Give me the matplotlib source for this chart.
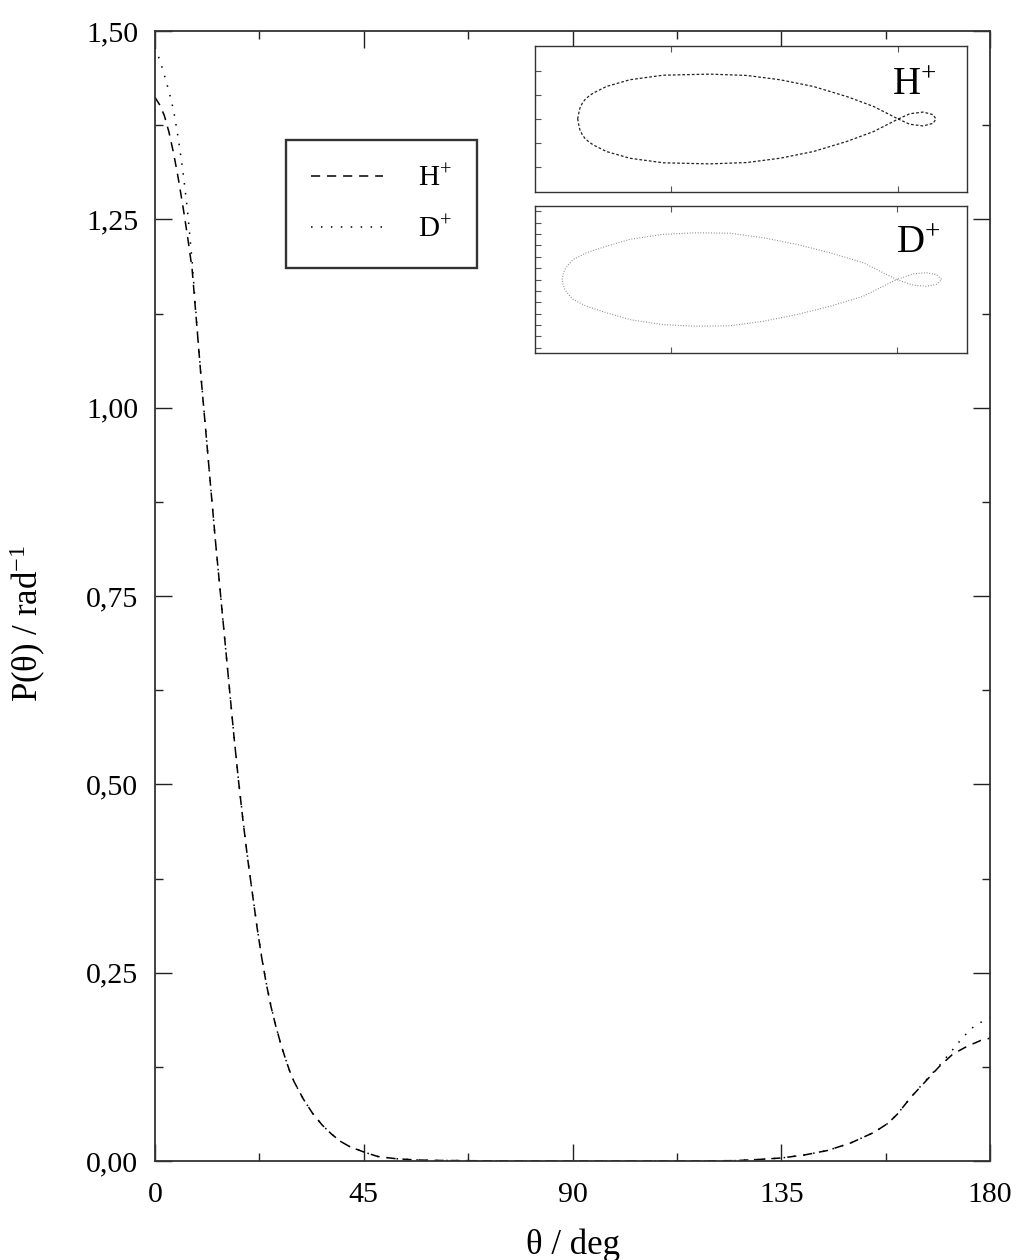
import numpy as np
import matplotlib
matplotlib.use("Agg")
import matplotlib.pyplot as plt
from matplotlib.ticker import MultipleLocator

plt.rcParams['font.family'] = ['Liberation Serif', 'DejaVu Serif']
plt.rcParams['mathtext.fontset'] = 'custom'
plt.rcParams['mathtext.rm'] = 'Liberation Serif'
plt.rcParams['mathtext.it'] = 'Liberation Serif:italic'

# ---------------- data: main panel ----------------
theta_H = [0, 1, 2, 3, 4, 5, 6, 7, 8, 9, 10, 11, 12, 13, 14, 15, 16, 17, 18, 19,
           20, 21, 22, 23, 24, 25, 26, 27, 28, 29, 30, 32, 34, 36, 38, 40, 42, 45,
           48, 52, 56, 60, 70, 80, 90, 100, 110, 120, 125, 130, 135, 140, 145,
           150, 155, 158, 160, 163, 166, 169, 172, 175, 178, 180]
P_H = [1.412, 1.402, 1.388, 1.366, 1.338, 1.305, 1.268, 1.228, 1.184, 1.110,
       1.035, 0.965, 0.895, 0.825, 0.760, 0.695, 0.630, 0.565, 0.505, 0.450,
       0.400, 0.355, 0.310, 0.270, 0.235, 0.205, 0.180, 0.158, 0.138, 0.120,
       0.105, 0.082, 0.063, 0.048, 0.036, 0.026, 0.019, 0.012,
       0.006, 0.003, 0.0015, 0.0008, 0.0003, 0.0, 0.0, 0.0, 0.0, 0.0002, 0.0005,
       0.002, 0.004, 0.008, 0.014, 0.024, 0.038, 0.050, 0.062, 0.085, 0.105,
       0.125, 0.142, 0.152, 0.160, 0.163]

theta_D = [0, 1, 2, 3, 4, 5, 6, 7, 8, 9, 10, 11, 12, 13, 14, 15, 16, 17, 18, 19,
           20, 21, 22, 23, 24, 25, 26, 27, 28, 29, 30, 32, 34, 36, 38, 40, 42, 45,
           48, 52, 56, 60, 70, 80, 90, 100, 110, 120, 125, 130, 135, 140, 145,
           150, 155, 158, 160, 163, 166, 169, 172, 174, 176, 178, 180]
P_D = [1.478, 1.462, 1.442, 1.420, 1.395, 1.358, 1.315, 1.262, 1.195, 1.112,
       1.036, 0.966, 0.895, 0.825, 0.760, 0.695, 0.630, 0.566, 0.506, 0.451,
       0.401, 0.355, 0.311, 0.271, 0.236, 0.206, 0.180, 0.158, 0.138, 0.120,
       0.105, 0.082, 0.063, 0.048, 0.036, 0.026, 0.019, 0.012,
       0.006, 0.003, 0.0015, 0.0008, 0.0003, 0.0, 0.0, 0.0, 0.0, 0.0002, 0.0005,
       0.002, 0.004, 0.008, 0.014, 0.024, 0.038, 0.050, 0.062, 0.085, 0.106,
       0.126, 0.148, 0.163, 0.176, 0.184, 0.190]

labels = ["H$^{+}$", "D$^{+}$"]
xticks = [0, 45, 90, 135, 180]
xtick_labels = ["0", "45", "90", "135", "180"]
yticks = [0.0, 0.25, 0.5, 0.75, 1.0, 1.25, 1.5]
ytick_labels = ["0,00", "0,25", "0,50", "0,75", "1,00", "1,25", "1,50"]

# ---------------- data: inset outlines (upper half) ----------------
lobeH_x = [-1.412, -1.408, -1.402, -1.392, -1.380, -1.362, -1.344, -1.285, -1.182,
           -1.035, -0.830, -0.668, -0.521, -0.374, -0.227, -0.110, -0.037, 0.0,
           0.051, 0.110, 0.154, 0.166]
lobeH_y = [0.0, 0.021, 0.046, 0.065, 0.081, 0.096, 0.108, 0.136, 0.164,
           0.183, 0.1875, 0.182, 0.164, 0.136, 0.094, 0.053, 0.018, 0.0,
           0.022, 0.029, 0.018, 0.0]
lobeD_x = [-1.480, -1.476, -1.468, -1.452, -1.431, -1.372, -1.283, -1.180, -1.033,
           -0.885, -0.738, -0.590, -0.443, -0.295, -0.148, -0.059, 0.0,
           0.074, 0.130, 0.175, 0.199]
lobeD_y = [0.0, 0.022, 0.044, 0.066, 0.088, 0.118, 0.147, 0.177, 0.199,
           0.206, 0.204, 0.184, 0.155, 0.118, 0.074, 0.029, 0.0,
           0.025, 0.030, 0.022, 0.0]

# ---------------- figure ----------------
W, H = 1022, 1260
fig = plt.figure(figsize=(W / 100, H / 100), dpi=100)

def frac(x0, y0, x1, y1):
    return [x0 / W, 1 - y1 / H, (x1 - x0) / W, (y1 - y0) / H]

ax = fig.add_axes(frac(155, 31, 990, 1161))
lw = 1.1
lH, = ax.plot(theta_H, P_H, color='black', lw=lw, dashes=(6.0, 4.5), label=labels[0])
lD, = ax.plot(theta_D, P_D, color='black', lw=lw, dashes=(1.0, 5.5), label=labels[1])

ax.set_xlim(0, 180)
ax.set_ylim(0, 1.5)
ax.set_xticks(xticks)
ax.set_xticklabels(xtick_labels)
ax.set_yticks(yticks)
ax.set_yticklabels(ytick_labels)
ax.xaxis.set_minor_locator(MultipleLocator(22.5))
ax.yaxis.set_minor_locator(MultipleLocator(0.125))
ax.tick_params(which='both', direction='in', top=True, right=True, width=1.0,
               colors='#222222', labelcolor='black', labelsize=21.5)
ax.tick_params(which='major', length=12.2)
ax.tick_params(which='minor', length=5.8)
ax.tick_params(axis='x', which='major', pad=15)
ax.tick_params(axis='y', which='major', pad=12)
for s in ax.spines.values():
    s.set_linewidth(1.3)
    s.set_color('#333333')

ax.set_xlabel("θ / deg", fontsize=25)
ax.set_ylabel("P(θ) / rad$^{-1}$", fontsize=25)
ax.xaxis.set_label_coords(0.5, -0.060)
ax.yaxis.set_label_coords(-0.128, 0.476)

leg = ax.legend(handles=[lH, lD], loc='upper left',
                bbox_to_anchor=((286 - 155) / 835, (1161 - 140) / 1130),
                fontsize=21, frameon=True, fancybox=False, edgecolor='black',
                handlelength=2.45, handletextpad=1.2, labelspacing=0.8,
                borderpad=0.87, borderaxespad=0.0)
leg.get_frame().set_linewidth(1.7)

# ---------------- insets (polar view) ----------------
def polar_inset(rect, lx, ly, xlim, ylim, ls_kw, text, tpos, ytk):
    a = fig.add_axes(rect)
    xs = np.asarray(lx, dtype=float)
    ys = np.asarray(ly, dtype=float)
    a.plot(np.concatenate([xs, xs[::-1]]), np.concatenate([ys, -ys[::-1]]), **ls_kw)
    a.set_xlim(*xlim)
    a.set_ylim(*ylim)
    a.set_xticks([-1.0, 0.0])
    a.set_yticks(ytk)
    a.tick_params(direction='in', top=True, bottom=True, left=True, right=False,
                  labelbottom=False, labelleft=False, length=4, width=0.8,
                  colors='#555555')
    for s in a.spines.values():
        s.set_linewidth(1.0)
        s.set_color('#333333')
    a.text(tpos[0], tpos[1], text, transform=a.transAxes, fontsize=28,
           ha='left', va='baseline')
    return a

polar_inset(frac(535, 46, 967, 192), lobeH_x, lobeH_y, (-1.600, 0.303), (-0.305, 0.305),
            dict(color='#222222', lw=0.9, dashes=(2.2, 1.6)), labels[0], (0.826, 0.664),
            [-0.2, -0.1, 0.0, 0.1, 0.2])
polar_inset(frac(535, 206, 967, 353), lobeD_x, lobeD_y, (-1.600, 0.311), (-0.324, 0.324),
            dict(color='#808080', lw=0.8, dashes=(0.8, 1.6)), labels[1], (0.835, 0.68),
            [-0.3, -0.25, -0.2, -0.15, -0.1, -0.05, 0.0, 0.05, 0.1, 0.15, 0.2, 0.25, 0.3])

fig.savefig("out.png", dpi=100)
